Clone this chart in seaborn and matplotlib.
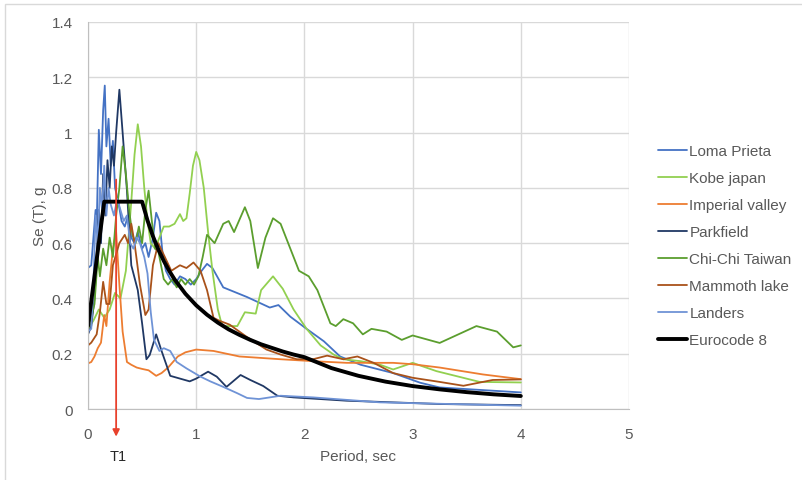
import matplotlib
matplotlib.use("Agg")
import matplotlib.pyplot as plt
import seaborn as sns
import pandas as pd
from matplotlib.patches import Rectangle
from matplotlib.ticker import FuncFormatter

# Spectres de réponse
loma_T = [0, 0.03, 0.05, 0.07, 0.08, 0.10, 0.12, 0.14, 0.155, 0.17, 0.19, 0.21, 0.23, 0.25, 0.28,
          0.31, 0.34, 0.37, 0.40, 0.43, 0.46, 0.50, 0.53, 0.56, 0.60, 0.63, 0.66, 0.69, 0.72, 0.76,
          0.80, 0.85, 0.90, 0.95, 1.0, 1.05, 1.1, 1.15, 1.25, 1.47, 1.68, 1.76, 1.87, 2.02, 2.18,
          2.33, 2.52, 2.82, 3.07, 3.25, 3.5, 4.0]
loma_Se = [0.51, 0.52, 0.62, 0.72, 0.66, 1.01, 0.85, 1.08, 1.17, 0.95, 1.05, 0.88, 0.97, 0.80, 0.75,
           0.68, 0.66, 0.70, 0.62, 0.60, 0.64, 0.58, 0.60, 0.55, 0.62, 0.71, 0.68, 0.56, 0.50, 0.47,
           0.45, 0.48, 0.47, 0.45, 0.47, 0.50, 0.525, 0.51, 0.44, 0.405, 0.367, 0.376, 0.334, 0.29, 0.245,
           0.19, 0.16, 0.13, 0.095, 0.078, 0.072, 0.06]

kobe_T = [0, 0.05, 0.10, 0.15, 0.20, 0.25, 0.30, 0.35, 0.40, 0.43, 0.46, 0.49, 0.52, 0.55, 0.58,
          0.62, 0.66, 0.70, 0.75, 0.80, 0.85, 0.88, 0.91, 0.94, 0.97, 1.0, 1.03, 1.07, 1.11, 1.15,
          1.20, 1.24, 1.38, 1.45, 1.55, 1.60, 1.71, 1.80, 1.90, 2.02, 2.15, 2.27, 2.36, 2.52, 2.70,
          2.82, 3.0, 3.22, 3.62, 4.0]
kobe_Se = [0.29, 0.32, 0.36, 0.33, 0.36, 0.42, 0.40, 0.50, 0.75, 0.92, 1.03, 0.95, 0.80, 0.68, 0.60,
           0.58, 0.62, 0.66, 0.66, 0.67, 0.705, 0.68, 0.69, 0.78, 0.88, 0.93, 0.90, 0.80, 0.64, 0.50,
           0.36, 0.30, 0.30, 0.35, 0.345, 0.43, 0.48, 0.435, 0.36, 0.29, 0.23, 0.197, 0.18, 0.173, 0.16,
           0.143, 0.167, 0.137, 0.098, 0.096]

imperial_T = [0, 0.03, 0.06, 0.09, 0.12, 0.15, 0.17, 0.20, 0.23, 0.26, 0.29, 0.32, 0.36, 0.40, 0.45,
              0.50, 0.56, 0.63, 0.68, 0.74, 0.83, 0.90, 1.0, 1.16, 1.4, 1.78, 2.08, 2.39, 2.82, 3.0,
              3.25, 3.65, 4.0]
imperial_Se = [0.165, 0.17, 0.19, 0.22, 0.24, 0.34, 0.30, 0.46, 0.58, 0.64, 0.45, 0.28, 0.17, 0.16, 0.15,
               0.145, 0.14, 0.12, 0.13, 0.15, 0.19, 0.205, 0.215, 0.21, 0.19, 0.18, 0.173, 0.167, 0.167, 0.162,
               0.15, 0.125, 0.108]

parkfield_T = [0, 0.03, 0.06, 0.08, 0.10, 0.12, 0.14, 0.16, 0.18, 0.20, 0.22, 0.24, 0.26, 0.29, 0.32,
               0.36, 0.40, 0.46, 0.50, 0.54, 0.57, 0.63, 0.68, 0.76, 0.85, 0.94, 1.0, 1.11, 1.19, 1.28,
               1.41, 1.50, 1.62, 1.75, 1.90, 2.39, 3.25, 4.0]
parkfield_Se = [0.27, 0.30, 0.40, 0.55, 0.72, 0.60, 0.85, 0.70, 0.90, 0.80, 0.95, 0.88, 1.0, 1.155, 1.0,
                0.79, 0.52, 0.43, 0.31, 0.18, 0.195, 0.27, 0.21, 0.12, 0.11, 0.10, 0.11, 0.135, 0.117, 0.08,
                0.123, 0.105, 0.083, 0.048, 0.042, 0.03, 0.018, 0.014]

chichi_T = [0, 0.03, 0.06, 0.09, 0.11, 0.14, 0.17, 0.20, 0.23, 0.26, 0.29, 0.32, 0.35, 0.38, 0.41,
            0.44, 0.47, 0.50, 0.53, 0.56, 0.59, 0.62, 0.65, 0.70, 0.74, 0.78, 0.82, 0.86, 0.90, 0.94,
            0.98, 1.02, 1.06, 1.10, 1.17, 1.25, 1.30, 1.35, 1.45, 1.50, 1.57, 1.64, 1.71, 1.78, 1.87,
            1.95, 2.04, 2.12, 2.24, 2.29, 2.36, 2.45, 2.54, 2.62, 2.76, 2.9, 3.0, 3.25, 3.59, 3.78,
            3.93, 4.0]
chichi_Se = [0.30, 0.33, 0.38, 0.55, 0.48, 0.58, 0.52, 0.62, 0.55, 0.70, 0.80, 0.95, 0.85, 0.72, 0.63,
             0.60, 0.66, 0.60, 0.72, 0.79, 0.68, 0.58, 0.57, 0.47, 0.45, 0.47, 0.44, 0.47, 0.45, 0.47,
             0.45, 0.48, 0.55, 0.63, 0.60, 0.67, 0.68, 0.64, 0.73, 0.68, 0.51, 0.62, 0.69, 0.67, 0.58,
             0.50, 0.48, 0.43, 0.31, 0.30, 0.325, 0.31, 0.27, 0.29, 0.28, 0.25, 0.266, 0.239, 0.30, 0.28,
             0.223, 0.23]

mammoth_T = [0, 0.03, 0.08, 0.11, 0.14, 0.17, 0.20, 0.23, 0.29, 0.34, 0.37, 0.40, 0.43, 0.48, 0.53,
             0.56, 0.60, 0.65, 0.71, 0.77, 0.85, 0.91, 0.975, 1.04, 1.10, 1.16, 1.21, 1.31, 1.47, 1.65,
             1.78, 1.93, 2.08, 2.21, 2.36, 2.49, 2.64, 2.82, 3.0, 3.25, 3.47, 3.74, 4.0]
mammoth_Se = [0.23, 0.24, 0.27, 0.35, 0.46, 0.38, 0.38, 0.52, 0.60, 0.63, 0.60, 0.67, 0.60, 0.45, 0.34,
              0.36, 0.52, 0.60, 0.55, 0.50, 0.52, 0.51, 0.53, 0.50, 0.43, 0.33, 0.32, 0.305, 0.26, 0.215,
              0.197, 0.18, 0.18, 0.193, 0.18, 0.19, 0.167, 0.13, 0.113, 0.098, 0.084, 0.105, 0.107]

landers_T = [0, 0.03, 0.05, 0.07, 0.09, 0.11, 0.13, 0.15, 0.17, 0.19, 0.21, 0.24, 0.27, 0.30, 0.33,
             0.36, 0.39, 0.42, 0.45, 0.48, 0.52, 0.55, 0.58, 0.61, 0.66, 0.70, 0.76, 0.82, 0.91, 1.04,
             1.13, 1.25, 1.38, 1.47, 1.58, 1.78, 2.08, 2.7, 4.0]
landers_Se = [0.28, 0.29, 0.45, 0.70, 0.60, 0.80, 0.72, 0.88, 0.70, 0.80, 0.74, 0.70, 0.76, 0.72, 0.68,
              0.70, 0.60, 0.58, 0.62, 0.60, 0.55, 0.49, 0.35, 0.25, 0.21, 0.22, 0.21, 0.17, 0.147, 0.117,
              0.10, 0.08, 0.057, 0.04, 0.036, 0.048, 0.042, 0.024, 0.012]

ec8_T = [0, 0.15, 0.5, 0.55, 0.6, 0.65, 0.7, 0.75, 0.8, 0.9, 1.0, 1.1, 1.2, 1.3, 1.4, 1.5, 1.6, 1.7,
         1.8, 1.9, 2.0, 2.25, 2.5, 2.75, 3.0, 3.25, 3.5, 3.75, 4.0]
ec8_Se = [0.30, 0.75, 0.75, 0.682, 0.625, 0.577, 0.536, 0.50, 0.469, 0.417, 0.375, 0.341, 0.3125, 0.288,
          0.268, 0.25, 0.234, 0.221, 0.208, 0.197, 0.1875, 0.148, 0.12, 0.099, 0.083, 0.071, 0.061,
          0.053, 0.047]

T1 = 0.26

series = [
    ("Loma Prieta", loma_T, loma_Se, "#4472C4", 1.3),
    ("Kobe japan", kobe_T, kobe_Se, "#92D050", 1.3),
    ("Imperial valley", imperial_T, imperial_Se, "#ED7D31", 1.3),
    ("Parkfield", parkfield_T, parkfield_Se, "#203864", 1.3),
    ("Chi-Chi Taiwan", chichi_T, chichi_Se, "#5B9E2E", 1.3),
    ("Mammoth lake", mammoth_T, mammoth_Se, "#A9521A", 1.3),
    ("Landers", landers_T, landers_Se, "#6F93D6", 1.3),
    ("Eurocode 8", ec8_T, ec8_Se, "#000000", 2.8),
]

sns.set_style("white")
plt.rcParams['font.family'] = ['Liberation Sans', 'DejaVu Sans']

fig = plt.figure(figsize=(8.03, 4.81), dpi=100)
ax = fig.add_axes([88 / 803, 1 - 410 / 481, (629 - 88) / 803, (410 - 23) / 481])

for name, t, se, col, lw in series:
    df = pd.DataFrame({"T": t, "Se": se})
    sns.lineplot(data=df, x="T", y="Se", ax=ax, color=col, lw=lw, label=name, sort=False)

ax.set_xlim(0, 5)
ax.set_ylim(0, 1.4)
ax.set_xticks(range(0, 6))
ax.set_yticks([i * 0.2 for i in range(8)])
ax.yaxis.set_major_formatter(FuncFormatter(lambda v, p: "{:g}".format(round(v, 1))))
ax.grid(True, color="#D9D9D9", lw=1)
ax.set_axisbelow(True)
for s in ["top", "right"]:
    ax.spines[s].set_visible(False)
for s in ["left", "bottom"]:
    ax.spines[s].set_color("#BFBFBF")
ax.tick_params(length=0, labelsize=11, colors="#595959")
ax.tick_params(axis="x", pad=13)
ax.tick_params(axis="y", pad=11)
ax.set_xlabel("Period, sec", fontsize=11, color="#595959", labelpad=6)
ax.set_ylabel("Se (T), g", fontsize=11, color="#595959", labelpad=3)

# Flèche T1
ax.annotate("", xy=(T1, -0.1), xytext=(T1, 0.83), annotation_clip=False,
            arrowprops=dict(arrowstyle="-|>", color="#E8412C", lw=1.3, mutation_scale=10,
                            shrinkA=0, shrinkB=0))
ax.text(T1 + 0.02, -0.145, "T1", ha="center", va="top", fontsize=10.5, color="#262626",
        clip_on=False)

leg = ax.legend(loc="upper left", bbox_to_anchor=(652 / 803, 1 - 139 / 481),
                bbox_transform=fig.transFigure, frameon=False, fontsize=11,
                handlelength=1.9, handletextpad=0.15, labelspacing=0.85, borderaxespad=0)
for txt in leg.get_texts():
    txt.set_color("#595959")

fig.patches.append(Rectangle((5 / 803, -0.05), 1.1, 1 - 5 / 481 + 0.05, transform=fig.transFigure,
                             fill=False, edgecolor="#D9D9D9", lw=1))

fig.savefig("out.png", dpi=100)
